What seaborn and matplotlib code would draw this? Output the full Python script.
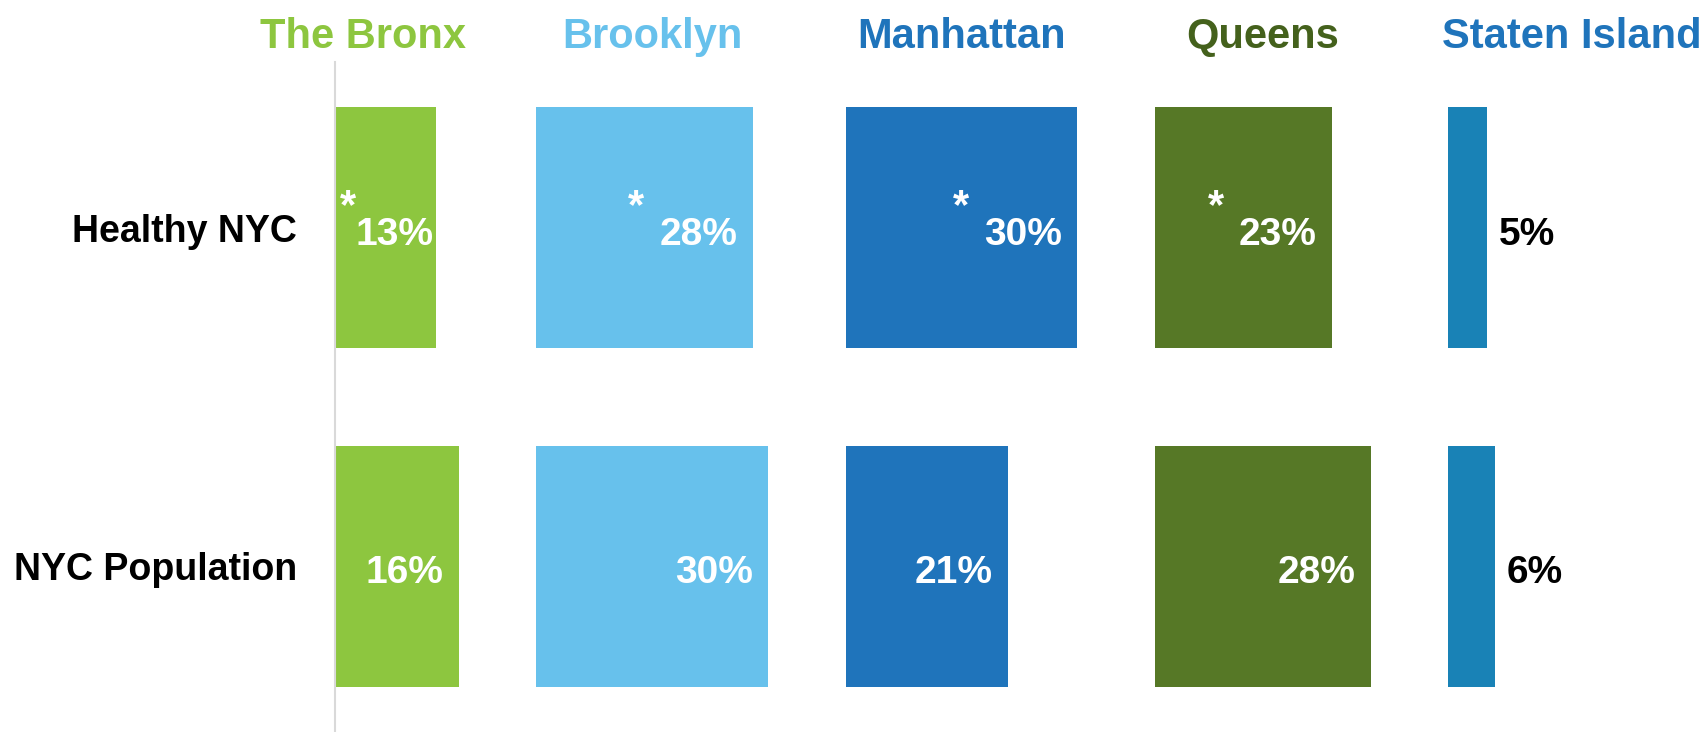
import numpy as np
import pandas as pd
import matplotlib
matplotlib.use('Agg')
import matplotlib.pyplot as plt
import matplotlib.transforms as mtransforms
import seaborn as sns

boroughs = ['The Bronx', 'Brooklyn', 'Manhattan', 'Queens', 'Staten Island']
groups = ['Healthy NYC', 'NYC Population']
healthy = [13, 28, 30, 23, 5]
population = [16, 30, 21, 28, 6]
starred = [True, True, True, True, False]
bar_colors = ['#8dc63f', '#67c1ec', '#1f74bb', '#567826', '#1982b6']
title_colors = ['#8dc63f', '#67c1ec', '#1f74bb', '#44611c', '#1f74bb']

# each borough gets its own column: widest bar + a fixed gap
gap = 10
widths = np.maximum(healthy, population)
offsets = np.concatenate([[0], np.cumsum(widths + gap)[:-1]])

df = pd.DataFrame({
    'borough': np.repeat(boroughs, 2),
    'group': groups * len(boroughs),
    'value': np.ravel(np.column_stack([healthy, population])),
})

sns.set_theme(style='white')
plt.rcParams['font.family'] = ['Liberation Sans', 'DejaVu Sans']

fig = plt.figure(figsize=(17.08, 7.32), dpi=100)
ax = fig.add_axes([335.5 / 1708, 0, 1 - 335.5 / 1708, 670 / 732])

for i, b in enumerate(boroughs):
    sub = df[df['borough'] == b]
    sns.barplot(data=sub, x='value', y='group', order=groups, color=bar_colors[i],
                saturation=1, width=0.713, errorbar=None, linewidth=0, ax=ax)
    for p in ax.containers[-1]:
        p.set_x(p.get_x() + offsets[i])

ax.set_xlim(0, 177.6)
ax.set_ylim(1.491, -0.491)
ax.set_xticks([])
ax.set_xlabel('')
ax.set_ylabel('')
ax.set_yticks([0, 1], groups)
ax.tick_params(axis='y', length=0, pad=27.7)
for lab in ax.get_yticklabels():
    lab.set_fontsize(27)
    lab.set_fontweight('bold')
    lab.set_color('black')

for s in ['top', 'right', 'bottom']:
    ax.spines[s].set_visible(False)
ax.spines['left'].set_color('#d9d9d9')
ax.spines['left'].set_linewidth(1.5)

# value labels
for i in range(len(boroughs)):
    for j, v in enumerate([healthy[i], population[i]]):
        end = offsets[i] + v
        y = j + 0.02
        if v < 10:
            ax.text(end + 1.5, y, f'{v}%', ha='left', va='center', color='black',
                    fontsize=28, fontweight='bold')
            continue
        narrow = v < 15
        pad = 0.3 if narrow else 2
        t = ax.text(end - pad, y, f'{v}%', ha='right', va='center', color='white',
                    fontsize=28, fontweight='bold')
        if j == 0 and starred[i]:
            ax.annotate('*', xy=(0, 1), xycoords=t, xytext=(0 if narrow else -11, 21),
                        textcoords='offset points', ha='right', va='top',
                        color='white', fontsize=30, fontweight='bold')

# borough headers
trans = mtransforms.blended_transform_factory(ax.transData, fig.transFigure)
for i, b in enumerate(boroughs):
    if i == 0:
        x, ha = offsets[i] + widths[i] + 0.9, 'right'
    elif i == len(boroughs) - 1:
        x, ha = ax.get_xlim()[1] - 0.8, 'right'
    else:
        x, ha = offsets[i] + widths[i] / 2, 'center'
    ax.text(x, 0.949, b, transform=trans, ha=ha, va='center', color=title_colors[i],
            fontsize=30, fontweight='bold')

fig.savefig('out.png', dpi=100)
